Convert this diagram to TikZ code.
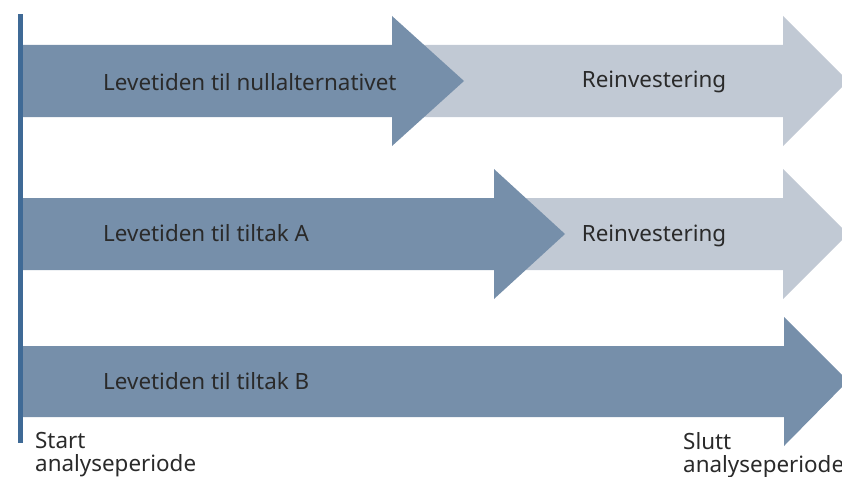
\documentclass[tikz,border=0pt]{standalone}
\usepackage{fontspec}
\setmainfont{Noto Sans}
\definecolor{darkarrow}{HTML}{768FAA}
\definecolor{lightarrow}{HTML}{C1C9D4}
\definecolor{startbar}{HTML}{3F6A96}
\definecolor{labeltext}{HTML}{2A2A2A}
\begin{document}
\begin{tikzpicture}[x=1pt,y=-1pt,
  lbl/.style={text=labeltext,font=\fontsize{22.4}{23.5}\selectfont,inner sep=0pt},
  lblleft/.style={lbl,anchor=west},
  note/.style={lbl,anchor=north west,align=left}]
\useasboundingbox (0,0) rectangle (842,476);
\begin{scope}
\clip (0,0) rectangle (842,476);
% reinvestment arrows (behind)
\fill[lightarrow] (392,45) -- (783,45) -- (783,16) -- (848,81) -- (783,146) -- (783,117) -- (392,117) -- cycle;
\fill[lightarrow] (494,198) -- (783,198) -- (783,169) -- (848,234) -- (783,299) -- (783,270) -- (494,270) -- cycle;
% lifetime arrows
\fill[darkarrow] (23,45) -- (392,45) -- (392,16) -- (464,81) -- (392,146) -- (392,117) -- (23,117) -- cycle;
\fill[darkarrow] (23,198) -- (494,198) -- (494,169) -- (565,234) -- (494,299) -- (494,270) -- (23,270) -- cycle;
\fill[darkarrow] (23,346) -- (784,346) -- (784,317) -- (848,381) -- (784,446) -- (784,417) -- (23,417) -- cycle;
% start of analysis period
\fill[startbar] (18,14) rectangle (23,443);
% labels
\node[lblleft] (n0) at (103,82) {Levetiden til nullalternativet};
\node[lbl] (r0) at (654,82) {Reinvestering};
\node[lblleft] (na) at (103,233) {Levetiden til tiltak A};
\node[lbl] (ra) at (654,236) {Reinvestering};
\node[lblleft] (nb) at (103,381) {Levetiden til tiltak B};
\node[note] (start) at (35,432) {Start\\analyseperiode};
\node[note] (slutt) at (683,432) {Slutt\\analyseperiode};
\end{scope}
\end{tikzpicture}
\end{document}
